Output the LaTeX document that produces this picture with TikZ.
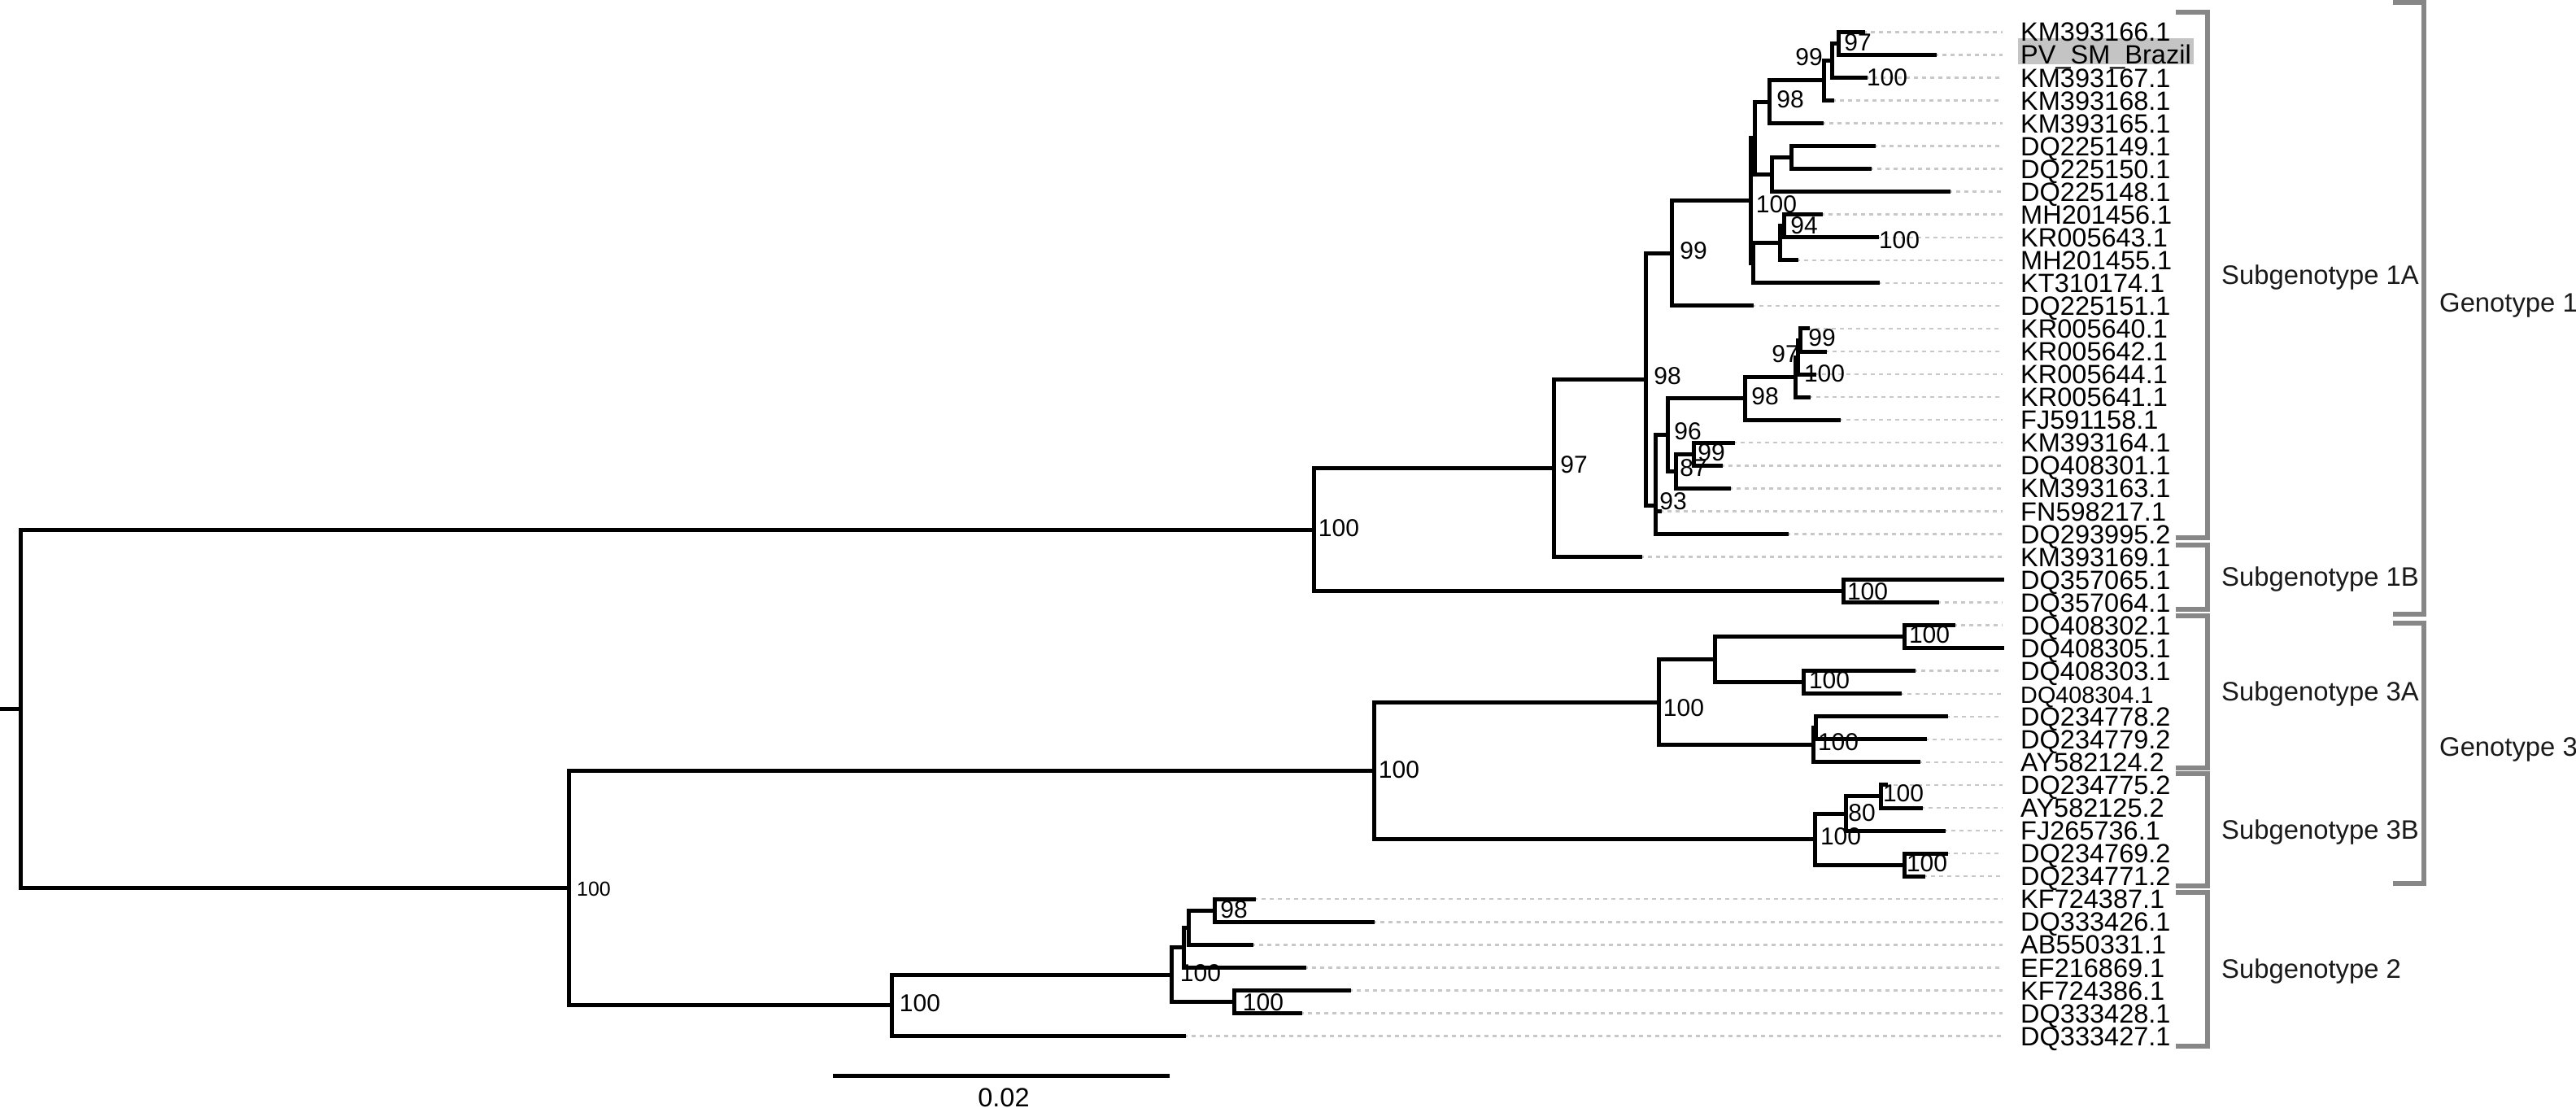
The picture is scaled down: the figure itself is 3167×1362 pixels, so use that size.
\documentclass[tikz,border=0pt]{standalone}
\usepackage{fontspec}
\setmainfont{Liberation Sans}
\definecolor{dashgray}{HTML}{C8C8C8}
\definecolor{brgray}{HTML}{878787}
\definecolor{hlgray}{HTML}{C4C4C4}
\definecolor{grptext}{HTML}{1A1A1A}
\newcommand\leaffont{\fontsize{32.5}{36}\selectfont}
\newcommand\bsfont{\fontsize{30}{34}\selectfont}
\newcommand\smbsfont{\fontsize{25}{28}\selectfont}
\newcommand\grpfont{\fontsize{32.8}{36}\selectfont}
\tikzset{
  br/.style={line width=5pt, line cap=rect, line join=miter},
  leafdash/.style={draw=dashgray, line width=2.5pt, dash pattern=on 5pt off 5pt, shorten >=22pt},
  leaflab/.style={anchor=west, inner sep=0pt, font=\leaffont, text height=23.3pt, text depth=0pt},
  bs/.style={inner sep=0pt, font=\bsfont, text height=21.5pt, text depth=0pt},
  grp/.style={anchor=west, inner sep=0pt, font=\grpfont, text height=23.5pt, text depth=0pt, text=grptext},
  bracket/.style={draw=brgray, line width=5.5pt, line cap=butt, line join=miter},
}
\begin{document}
\begin{tikzpicture}[x=1pt,y=-1pt]
\useasboundingbox (0,0) rectangle (3167,1362);

% highlight of the new isolate
\fill[hlgray] (2481,47) rectangle (2697,79);

% leaves: tips and labels
\foreach \n/\tx [count=\i from 0] in {
KM393166.1/2290, PV\_SM\_Brazil/2378, KM393167.1/2293, KM393168.1/2252,
KM393165.1/2239, DQ225149.1/2303, DQ225150.1/2298, DQ225148.1/2395,
MH201456.1/2238, KR005643.1/2307, MH201455.1/2208, KT310174.1/2308,
DQ225151.1/2153, KR005640.1/2222, KR005642.1/2243, KR005644.1/2230,
KR005641.1/2223, FJ591158.1/2260, KM393164.1/2130, DQ408301.1/2115,
KM393163.1/2125, FN598217.1/2040, DQ293995.2/2196, KM393169.1/2016,
DQ357065.1/2461, DQ357064.1/2381, DQ408302.1/2401, DQ408305.1/2461,
DQ408303.1/2352, DQ408304.1/2335, DQ234778.2/2392, DQ234779.2/2366,
AY582124.2/2358, DQ234775.2/2318, AY582125.2/2361, FJ265736.1/2389,
DQ234769.2/2392, DQ234771.2/2364, KF724387.1/1541, DQ333426.1/1687,
AB550331.1/1538, EF216869.1/1603, KF724386.1/1658, DQ333428.1/1598,
DQ333427.1/1455}{
  \coordinate (t\i) at (\tx,{39.3+28.05*\i});
  \node[leaflab] (lab\i) at (2484,{39.3+28.05*\i}) {\ifnum\i=29 \fontsize{28.8}{32}\selectfont\fi\n};
  \ifdim \tx pt < 2450pt
    \draw[leafdash] (t\i) -- (lab\i.west);
  \fi
}

% internal nodes
\coordinate (rs) at (0,871.3);
\coordinate (root) at (25,871.3);
\coordinate (nG1) at (1615,651);
\coordinate (n1A) at (1910,575.5);
\coordinate (n1B) at (2266,726.5);
\coordinate (n98a) at (2023,466.5);
\coordinate (n99) at (2055,311.25);
\coordinate (n100c) at (2152,246.6);
\coordinate (nw) at (2157,169.9);
\coordinate (n98b) at (2175,125.25);
\coordinate (n99b) at (2242,99.0);
\coordinate (n100b) at (2252,74.35);
\coordinate (n97) at (2260,53.3);
\coordinate (ny) at (2178,214.6);
\coordinate (nz) at (2202,193.6);
\coordinate (nv) at (2155,323.3);
\coordinate (n94p) at (2188,298.75);
\coordinate (n94) at (2193,277.7);
\coordinate (n93) at (2035,621.7);
\coordinate (n96) at (2050,534.55);
\coordinate (n98c) at (2145,489.85);
\coordinate (n97b) at (2207,463.55);
\coordinate (ns) at (2210,439.0);
\coordinate (n99d) at (2213,418.0);
\coordinate (n87) at (2060,579.25);
\coordinate (n99c) at (2082,558.2);
\coordinate (nL) at (699,1091.6);
\coordinate (nG3) at (1689,947.4);
\coordinate (n3A) at (2039,863.25);
\coordinate (na) at (2108,810.65);
\coordinate (n100e) at (2341,782.6);
\coordinate (n100f) at (2217,838.7);
\coordinate (nb) at (2229,915.85);
\coordinate (nb2) at (2232,894.8);
\coordinate (n3B) at (2231,1031.55);
\coordinate (n80) at (2269,1000);
\coordinate (n100g) at (2312,978.95);
\coordinate (n100h) at (2341,1063.1);
\coordinate (nG2) at (1096,1235.8);
\coordinate (nc) at (1440,1198.1);
\coordinate (nf) at (1455,1164.8);
\coordinate (ne) at (1461,1140.25);
\coordinate (n98e) at (1493,1119.2);
\coordinate (n100k) at (1517,1231.4);

% branches
\draw[br] (rs) -- (root);
\foreach \p/\cl in {
  root/{nG1,nL}, nG1/{n1A,n1B}, n1A/{n98a,t23}, n1B/{t24,t25},
  n98a/{n99,n93}, n99/{n100c,t12}, n100c/{nw,nv}, nw/{n98b,ny},
  n98b/{n99b,t4}, n99b/{n100b,t3}, n100b/{n97,t2}, n97/{t0,t1},
  ny/{nz,t7}, nz/{t5,t6}, nv/{n94p,t11}, n94p/{n94,t10}, n94/{t8,t9},
  n93/{n96,t21,t22}, n96/{n98c,n87}, n98c/{n97b,t17}, n97b/{ns,t16},
  ns/{n99d,t15}, n99d/{t13,t14}, n87/{n99c,t20}, n99c/{t18,t19},
  nL/{nG3,nG2}, nG3/{n3A,n3B}, n3A/{na,nb}, na/{n100e,n100f},
  n100e/{t26,t27}, n100f/{t28,t29}, nb/{nb2,t32}, nb2/{t30,t31},
  n3B/{n80,n100h}, n80/{n100g,t35}, n100g/{t33,t34}, n100h/{t36,t37},
  nG2/{nc,t44}, nc/{nf,n100k}, nf/{ne,t41}, ne/{n98e,t40},
  n98e/{t38,t39}, n100k/{t42,t43}}{
  \foreach \c in \cl { \draw[br] (\p) |- (\c); }
}

% bootstrap values
\foreach \v/\x/\y [count=\k] in {
97/2284/52, 99/2224/70, 100/2320/95, 98/2201/122, 100/2184/251,
94/2218/277, 100/2335/295, 99/2082/308, 99/2240/415, 97/2195/435,
100/2243/459, 98/2170/487, 96/2075/530, 99/2104/556, 87/2082/575,
93/2057/616, 98/2050/462, 97/1935/571, 100/1646/649, 100/2296/727,
100/1720/946, 100/2070/870, 100/2372/780, 100/2249/836, 100/2260/912,
80/2289/999, 100/2340/975, 100/2263/1028, 100/2369/1061,
100/1131/1233, 98/1517/1118, 100/1476/1196, 100/1553/1232}{
  \node[bs] (bs\k) at (\x,\y) {\v};
}
\node[bs, font=\smbsfont, text height=18pt] (bsL) at (730,1092) {100};

% group brackets
\draw[bracket] (2675,15) -- (2714,15) -- (2714,661) -- (2675,661);
\draw[bracket] (2675,670) -- (2714,670) -- (2714,749) -- (2675,749);
\draw[bracket] (2675,757) -- (2714,757) -- (2714,944) -- (2675,944);
\draw[bracket] (2675,951) -- (2714,951) -- (2714,1089) -- (2675,1089);
\draw[bracket] (2675,1097) -- (2714,1097) -- (2714,1286) -- (2675,1286);
\draw[bracket] (2942,3) -- (2980,3) -- (2980,755) -- (2942,755);
\draw[bracket] (2942,766) -- (2980,766) -- (2980,1086) -- (2942,1086);

\node[grp] (g1A) at (2731,338) {Subgenotype 1A};
\node[grp] (g1B) at (2731,709) {Subgenotype 1B};
\node[grp] (g3A) at (2731,850) {Subgenotype 3A};
\node[grp] (g3B) at (2731,1020) {Subgenotype 3B};
\node[grp] (g2) at (2731,1191) {Subgenotype 2};
\node[grp] (G1) at (2999,372) {Genotype 1};
\node[grp] (G3) at (2999,918) {Genotype 3};

% scale bar
\coordinate (sb1) at (1024,1322);
\coordinate (sb2) at (1438,1322);
\draw[br, line cap=butt] (sb1) -- (sb2);
\node[bs, font=\leaffont, text height=23pt] (sbl) at (1234,1349) {0.02};
\end{tikzpicture}
\end{document}
